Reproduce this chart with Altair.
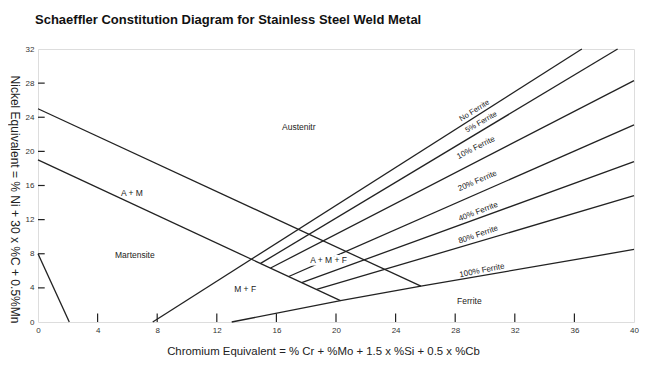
import altair as alt
import pandas as pd

# ---------------- data ----------------
x_ticks = [0, 4, 8, 12, 16, 20, 24, 28, 32, 36, 40]
y_ticks = [0, 4, 8, 12, 16, 20, 24, 28, 32]
x_inner_ticks = [4, 8, 12, 16, 20, 24, 28, 32, 36]
y_inner_ticks = [4, 8, 12, 16, 20, 24, 28]

# boundary lines (x, y points)
left_x, left_y = [0, 2.1], [8, 0]
upper_x, upper_y = [0, 25.7], [25, 4.2]
lower_x, lower_y = [0, 20.3], [19, 2.5]
nof_x, nof_y = [7.7, 36.5], [0, 32]
f5_x, f5_y = [14.94, 38.9], [6.87, 32]
f10_x, f10_y = [15.61, 40], [6.33, 28.3]
f20_x, f20_y = [16.83, 40], [5.33, 23.1]
f40_x, f40_y = [17.7, 40], [4.62, 18.8]
f80_x, f80_y = [18.7, 40], [3.81, 14.8]
f100_x, f100_y = [13, 20.3, 25.7, 40], [0, 2.5, 4.2, 8.5]

region_labels = ["Austenitr", "A + M", "Martensite", "M + F", "Ferrite"]
region_x = [17.5, 6.3, 6.5, 13.9, 28.95]
region_y = [22.8, 15.1, 7.8, 3.9, 2.5]

amf_label = ["A + M + F"]
amf_x = [19.5]
amf_y = [7.3]

ferrite_labels = ["No Ferrite", "5% Ferrite", "10% Ferrite", "20% Ferrite",
                  "40% Ferrite", "80% Ferrite", "100% Ferrite"]
ferrite_x = [29.3, 29.75, 29.4, 29.5, 29.55, 29.55, 29.8]
ferrite_y = [24.75, 23.4, 20.4, 16.5, 12.9, 10.2, 6.0]
ferrite_angle = [328, 330, 333, 337, 339, 341, 349]
ferrite_size = [7.6, 7.6, 8, 8, 8, 8, 8]

# ---------------- tables ----------------
lines = [("left", left_x, left_y), ("upper", upper_x, upper_y),
         ("lower", lower_x, lower_y), ("nof", nof_x, nof_y),
         ("f5", f5_x, f5_y), ("f10", f10_x, f10_y), ("f20", f20_x, f20_y),
         ("f40", f40_x, f40_y), ("f80", f80_x, f80_y), ("f100", f100_x, f100_y)]
rows = []
for name, xs, ys in lines:
    for i, (a, b) in enumerate(zip(xs, ys)):
        rows.append({"line": name, "i": i, "x": a, "y": b})
line_df = pd.DataFrame(rows)

xt_df = pd.DataFrame({"x": x_inner_ticks, "y": 0.0, "y2": 1.0})
yt_df = pd.DataFrame({"y": y_inner_ticks, "x": 0.0, "x2": 0.45})
reg_df = pd.DataFrame({"label": region_labels, "x": region_x, "y": region_y})
amf_df = pd.DataFrame({"label": amf_label, "x": amf_x, "y": amf_y})
fer_df = pd.DataFrame({"label": ferrite_labels, "x": ferrite_x, "y": ferrite_y,
                       "ang": ferrite_angle, "size": ferrite_size})

FONT = "Liberation Sans"
INK = "#222222"

xscale = alt.Scale(domain=[0, 40], nice=False, zero=False)
yscale = alt.Scale(domain=[0, 32], nice=False, zero=False)

x_axis = alt.Axis(values=x_ticks, format="d", grid=False, ticks=False, tickSize=0,
                  domain=False, labelFont=FONT, labelFontSize=8, labelColor="#333",
                  labelPadding=4, labelFlush=False,
                  title="Chromium Equivalent = % Cr + %Mo + 1.5 x %Si + 0.5 x %Cb",
                  titleFont=FONT, titleFontSize=11.4, titleFontWeight="normal",
                  titleColor=INK, titleX=285, titleY=29, titleBaseline="middle",
                  titleAnchor="middle", titleAlign="center")
y_axis = alt.Axis(values=y_ticks, format="d", grid=False, ticks=False, tickSize=0,
                  domain=False, labelFont=FONT, labelFontSize=8, labelColor="#333",
                  labelPadding=4, labelFlush=False,
                  title="Nickel Equivalent = % Ni + 30 x %C + 0.5%Mn",
                  titleFont=FONT, titleFontSize=12, titleFontWeight="normal",
                  titleColor=INK, titleAngle=90, titleX=-23.5, titleY=150,
                  titleBaseline="middle", titleAlign="center")

X = alt.X("x:Q", scale=xscale, axis=x_axis)
Y = alt.Y("y:Q", scale=yscale, axis=y_axis)

line_layer = alt.Chart(line_df).mark_line(color=INK, strokeWidth=1.3).encode(
    x=X, y=Y, detail="line:N", order="i:Q")

xt_layer = alt.Chart(xt_df).mark_rule(color=INK, strokeWidth=1.2).encode(
    x=X, y=Y, y2="y2:Q")
yt_layer = alt.Chart(yt_df).mark_rule(color=INK, strokeWidth=1.2).encode(
    x=X, x2="x2:Q", y=Y)

reg_layer = alt.Chart(reg_df).mark_text(font=FONT, fontSize=8.5, color=INK).encode(
    x=X, y=Y, text="label:N")

amf_halo = alt.Chart(amf_df).mark_text(font=FONT, fontSize=8.5, color="white",
                                      stroke="white", strokeWidth=5).encode(
    x=X, y=Y, text="label:N")
amf_text = alt.Chart(amf_df).mark_text(font=FONT, fontSize=8.5, color=INK).encode(
    x=X, y=Y, text="label:N")

fer_layer = alt.Chart(fer_df).mark_text(font=FONT, color=INK).encode(
    x=X, y=Y, text="label:N", angle=alt.Angle("ang:Q", scale=None),
    size=alt.Size("size:Q", scale=None, legend=None))

chart = alt.layer(line_layer, xt_layer, yt_layer, reg_layer, amf_halo, amf_text,
                  fer_layer).properties(
    width=596, height=273,
    autosize=alt.AutoSizeParams(type="none"),
    padding={"left": 30, "top": 41, "right": 8, "bottom": 40},
    title=alt.TitleParams(
        "Schaeffler Constitution Diagram for Stainless Steel Weld Metal",
        anchor="start", frame="group", font=FONT, fontSize=13, fontWeight="bold",
        color="#111", offset=18, dx=-3),
).configure_view(stroke="#111", strokeWidth=1.3).configure(background="white")

chart.save("out.html", embed_options={"renderer": "svg", "actions": False})
